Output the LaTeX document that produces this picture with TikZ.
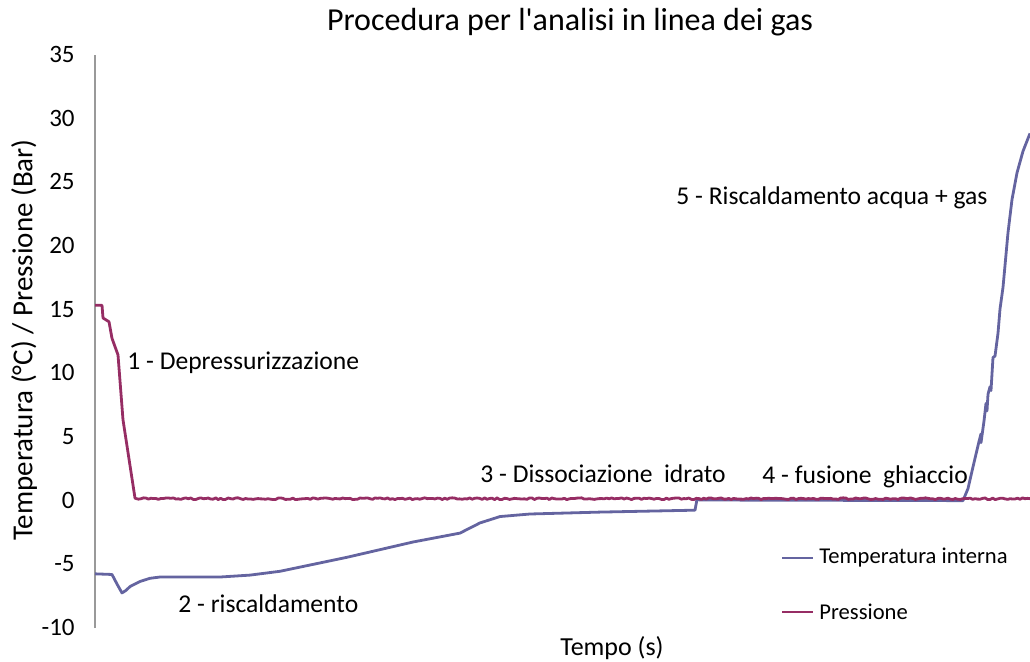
\documentclass[tikz,border=0pt]{standalone}
\usepackage{fontspec}
\setmainfont{Carlito}
\definecolor{tempcol}{RGB}{100,100,160}
\definecolor{prescol}{RGB}{150,45,100}
\begin{document}
\begin{tikzpicture}[x=0.5pt, y=0.5pt,
  lbl/.style={anchor=west, font=\fontsize{12.8}{15}\selectfont, inner sep=0pt},
  tick/.style={anchor=east, font=\fontsize{12.5}{15}\selectfont, inner sep=0pt},
  curve/.style={line width=1.4pt, line join=round}]
\useasboundingbox (0,0) rectangle (1030,661);
% axis
\coordinate (ax0) at (95,33);
\coordinate (ax1) at (95,606);
\draw[gray!80, line width=0.6pt] (ax0) -- (ax1);
\foreach \v in {-10,-5,...,35}
  \node[tick] (t\v) at (75,{161+12.73*\v}) {\v};
% titles
\node[font=\fontsize{16}{19}\selectfont] (title) at (570,639) {Procedura per l\textquotesingle analisi in linea dei gas};
\node[font=\fontsize{14.5}{17}\selectfont, rotate=90] (ylab) at (24,321) {Temperatura (°C) / Pressione (Bar)};
\node[font=\fontsize{13}{15}\selectfont] (xlab) at (612,13) {Tempo (s)};
% data
\begin{scope}[shift={(0,161)}, y=6.365pt]
\draw[curve, tempcol] (95,-5.8) -- (112,-5.85) -- (117,-6.6) -- (122,-7.3) -- (126,-7.1)
  -- (130,-6.8) -- (140,-6.4) -- (150,-6.15) -- (160,-6.05) -- (220,-6.05)
  -- (250,-5.9) -- (280,-5.6) -- (347,-4.5) -- (413,-3.3) -- (460,-2.6)
  -- (470,-2.2) -- (480,-1.8) -- (500,-1.3) -- (530,-1.1) -- (600,-0.95)
  -- (695,-0.8) -- (697,0.05) -- (700,0.0) -- (963,-0.05) -- (968,0.9)
  -- (973,2.6) -- (976,3.6) -- (979,4.6) -- (981,5.2) -- (981,4.5) -- (984,6.2)
  -- (986,7.6) -- (987,7.0) -- (988,8.3) -- (990,8.9) -- (991,8.6) -- (993,11.2)
  -- (995,11.3) -- (998,13.1) -- (1000,15.0) -- (1003,16.7) -- (1008,21.0)
  -- (1012,23.6) -- (1017,25.7) -- (1023,27.4) -- (1030,28.8);
\pgfmathsetseed{7}
\draw[curve, prescol] (95,15.3) -- (102,15.3) -- (103,14.3) -- (109,14.0)
  -- (112,12.7) -- (118,11.4) -- (123,6.3) -- (135,0.15)
  -- plot[domain=136:1030, samples=360] (\x, {0.1+0.07*rand});
\end{scope}
% stage labels
\node[lbl] (s1) at (127,298) {1 - Depressurizzazione};
\node[lbl] (s2) at (178,57) {2 - riscaldamento};
\node[lbl] (s3) at (480,187) {3 - Dissociazione\ \ idrato};
\node[lbl] (s4) at (762,184) {4 - fusione\ \ ghiaccio};
\node[lbl] (s5) at (676,463) {5 - Riscaldamento acqua + gas};
% legend
\coordinate (lt0) at (782,103);
\coordinate (lt1) at (813,103);
\coordinate (lp0) at (782,49);
\coordinate (lp1) at (813,49);
\draw[tempcol, line width=1.4pt] (lt0) -- (lt1);
\draw[prescol, line width=1.4pt] (lp0) -- (lp1);
\node[lbl, font=\fontsize{11.3}{13}\selectfont] (leg1) at (819,103) {Temperatura interna};
\node[lbl, font=\fontsize{11.3}{13}\selectfont] (leg2) at (819,49) {Pressione};
\end{tikzpicture}
\end{document}
